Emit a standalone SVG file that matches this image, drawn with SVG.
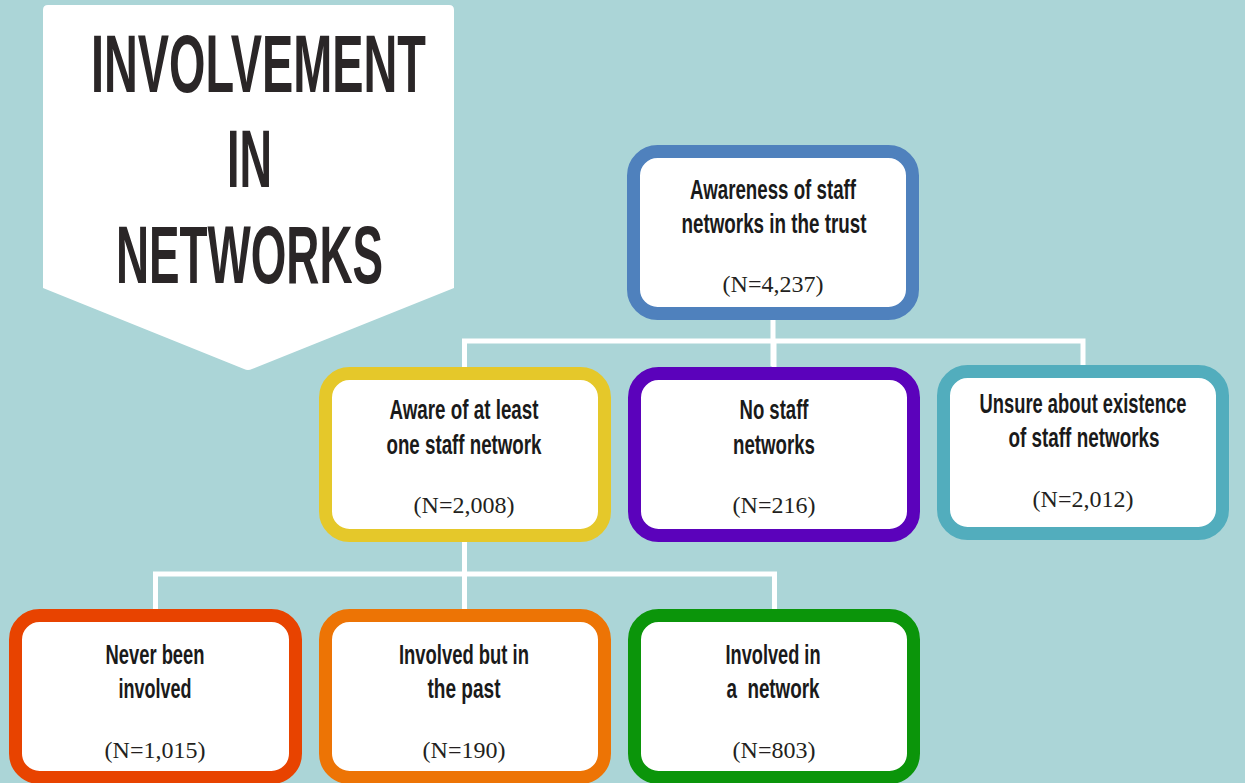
<svg xmlns="http://www.w3.org/2000/svg" width="1245" height="783" viewBox="0 0 1245 783">
<style>
.bx{fill:#ffffff;stroke-width:13}
.lb{font-family:"Liberation Sans",Arial,sans-serif;font-weight:bold;font-size:28px;fill:#1a1a1a;text-anchor:middle}
.n{font-family:"Liberation Serif","Times New Roman",serif;font-size:24px;fill:#231f20;text-anchor:middle}
.tt{font-family:"Liberation Sans",Arial,sans-serif;font-weight:bold;font-size:82px;fill:#2a2627}
.cn{fill:none;stroke:#ffffff;stroke-width:5}
</style>
<rect x="0" y="0" width="1245" height="783" fill="#abd5d7"/>
<g id="title">
<path d="M48,5 L449,5 Q454,5 454,10 L454,288 L252,369 Q248,371 244,369 L43,288 L43,10 Q43,5 48,5 Z" fill="#ffffff"/>
<text class="tt" x="91" y="92" textLength="335" lengthAdjust="spacingAndGlyphs">INVOLVEMENT</text>
<text class="tt" x="227" y="187" textLength="45" lengthAdjust="spacingAndGlyphs">IN</text>
<text class="tt" x="116" y="283" textLength="267" lengthAdjust="spacingAndGlyphs">NETWORKS</text>
</g>
<g id="connectors">
<path class="cn" d="M773,318 V366"/>
<path class="cn" d="M464.5,368 V341 H1083 V366"/>
<path class="cn" d="M774,341 V368"/>
<path class="cn" d="M464.5,540 V610"/>
<path class="cn" d="M155.5,610 V574 H774.5 V610"/>
</g>
<g id="awareness">
<rect class="bx" x="633.5" y="151.5" width="279" height="162" rx="24" stroke="#4f81bd"/>
<text class="lb" x="773" y="199" textLength="166" lengthAdjust="spacingAndGlyphs">Awareness of staff</text>
<text class="lb" x="774" y="233" textLength="185" lengthAdjust="spacingAndGlyphs">networks in the trust</text>
<text class="n" x="773" y="292">(N=4,237)</text>
</g>
<g id="aware">
<rect class="bx" x="325.5" y="373.5" width="279" height="162" rx="24" stroke="#e5c82a"/>
<text class="lb" x="464" y="419" textLength="149" lengthAdjust="spacingAndGlyphs">Aware of at least</text>
<text class="lb" x="464" y="454" textLength="155" lengthAdjust="spacingAndGlyphs">one staff network</text>
<text class="n" x="464" y="513">(N=2,008)</text>
</g>
<g id="nostaff">
<rect class="bx" x="634.5" y="373.5" width="279" height="162" rx="24" stroke="#5b02bb"/>
<text class="lb" x="774" y="419" textLength="69" lengthAdjust="spacingAndGlyphs">No staff</text>
<text class="lb" x="774" y="454" textLength="82" lengthAdjust="spacingAndGlyphs">networks</text>
<text class="n" x="774" y="513">(N=216)</text>
</g>
<g id="unsure">
<rect class="bx" x="943.5" y="371.5" width="279" height="162" rx="24" stroke="#52adbd"/>
<text class="lb" transform="translate(1083,413) scale(0.655,1)" x="0" y="0">Unsure about existence</text>
<text class="lb" x="1084" y="447" textLength="151" lengthAdjust="spacingAndGlyphs">of staff networks</text>
<text class="n" x="1083" y="507">(N=2,012)</text>
</g>
<g id="never">
<rect class="bx" x="15.5" y="615.5" width="280" height="162" rx="24" stroke="#e84300"/>
<text class="lb" x="155" y="664" textLength="99" lengthAdjust="spacingAndGlyphs">Never been</text>
<text class="lb" x="155" y="698" textLength="73" lengthAdjust="spacingAndGlyphs">involved</text>
<text class="n" x="155" y="758">(N=1,015)</text>
</g>
<g id="past">
<rect class="bx" x="325.5" y="615.5" width="279" height="162" rx="24" stroke="#ed7405"/>
<text class="lb" x="464" y="664" textLength="130" lengthAdjust="spacingAndGlyphs">Involved but in</text>
<text class="lb" x="464" y="698" textLength="73" lengthAdjust="spacingAndGlyphs">the past</text>
<text class="n" x="464" y="758">(N=190)</text>
</g>
<g id="involved">
<rect class="bx" x="634.5" y="615.5" width="279" height="162" rx="24" stroke="#0b950a"/>
<text class="lb" x="773" y="664" textLength="95" lengthAdjust="spacingAndGlyphs">Involved in</text>
<text class="lb" x="773" y="698" textLength="93" lengthAdjust="spacingAndGlyphs" style="white-space:pre">a  network</text>
<text class="n" x="774" y="758">(N=803)</text>
</g>
</svg>
